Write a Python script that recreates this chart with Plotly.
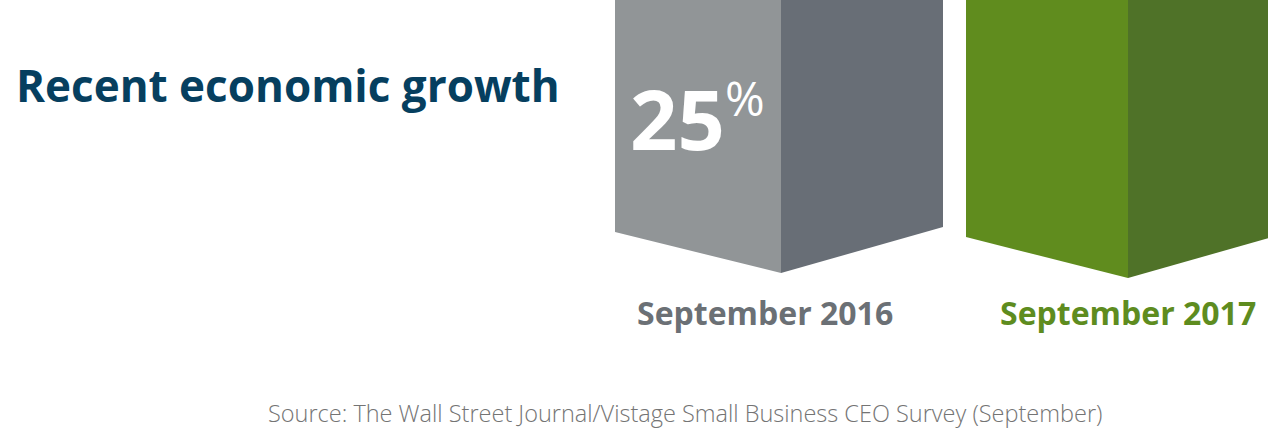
import plotly.graph_objects as go

# Survey results: share of CEOs reporting recent economic growth
periods = ["September 2016", "September 2017"]
values = [25, 54]
value_labels = ["25", "54"]

title_text = "Recent economic growth"
source_text = "Source: The Wall Street Journal/Vistage Small Business CEO Survey (September)"

# Styling per bar: front face, side face, label colour
front_colors = ["#919597", "#608c1e"]
side_colors = ["#686e76", "#4f7228"]
label_colors = ["#6b7075", "#5e8c1f"]

W, H = 1268, 429
PX_PER_UNIT = 12.0           # vertical scale of the value axis
BASE_PX = 273                # pixel row of the value-zero baseline
y_top = BASE_PX / PX_PER_UNIT
y_bottom = -(H - BASE_PX) / PX_PER_UNIT

# Box geometry (x in pixels, depths in value units)
box_left = [615, 966]
box_split = [781, 1128]
box_right = [943, 1290]
base_shift = [0.0, -5 / PX_PER_UNIT]
left_rise = 41 / PX_PER_UNIT
right_rise = 46 / PX_PER_UNIT
label_x = [765, 1128]

fig = go.Figure()

for i, v in enumerate(values):
    b = base_shift[i]
    x0, xm, x1 = box_left[i], box_split[i], box_right[i]
    # lit front face with chevron bottom edge
    fig.add_trace(go.Scatter(
        x=[x0, x0, xm, xm, x0],
        y=[v, b + left_rise, b, v, v],
        fill="toself", fillcolor=front_colors[i],
        mode="lines", line=dict(width=0, color=front_colors[i]),
        hoverinfo="skip", showlegend=False,
    ))
    # shaded side face
    fig.add_trace(go.Scatter(
        x=[xm, xm, x1, x1, xm],
        y=[v, b, b + right_rise, v, v],
        fill="toself", fillcolor=side_colors[i],
        mode="lines", line=dict(width=0, color=side_colors[i]),
        hoverinfo="skip", showlegend=False,
    ))
    # value label near the top of the box
    fig.add_annotation(
        x=x0 + 13, y=v - 12.0, xref="x", yref="y",
        text=value_labels[i], showarrow=False,
        xanchor="left", yanchor="middle",
        font=dict(family="Open Sans", size=83, color="white", weight=700),
    )
    fig.add_annotation(
        x=x0 + 108, y=v - 10.4, xref="x", yref="y",
        text="%", showarrow=False,
        xanchor="left", yanchor="middle",
        font=dict(family="Open Sans", size=48, color="white", weight=500),
    )
    # period label under the box
    fig.add_annotation(
        x=label_x[i], y=-3.3, xref="x", yref="y",
        text=periods[i], showarrow=False,
        xanchor="center", yanchor="middle",
        font=dict(family="Open Sans", size=32, color=label_colors[i], weight=700),
    )

fig.add_annotation(
    x=14 / W, y=1 - 85 / H, xref="paper", yref="paper",
    text=title_text, showarrow=False, xanchor="left", yanchor="middle",
    font=dict(family="Open Sans", size=44, color="#063f5f", weight=700),
)
fig.add_annotation(
    x=685 / W, y=1 - 413 / H, xref="paper", yref="paper",
    text=source_text, showarrow=False, xanchor="center", yanchor="middle",
    font=dict(family="Open Sans", size=23.5, color="#747474", weight=300),
)

fig.update_layout(
    width=W, height=H,
    margin=dict(l=0, r=0, t=0, b=0),
    paper_bgcolor="white", plot_bgcolor="white",
    xaxis=dict(range=[0, W], visible=False, fixedrange=True),
    yaxis=dict(range=[y_bottom, y_top], visible=False, fixedrange=True),
)

fig.write_html("out.html")
